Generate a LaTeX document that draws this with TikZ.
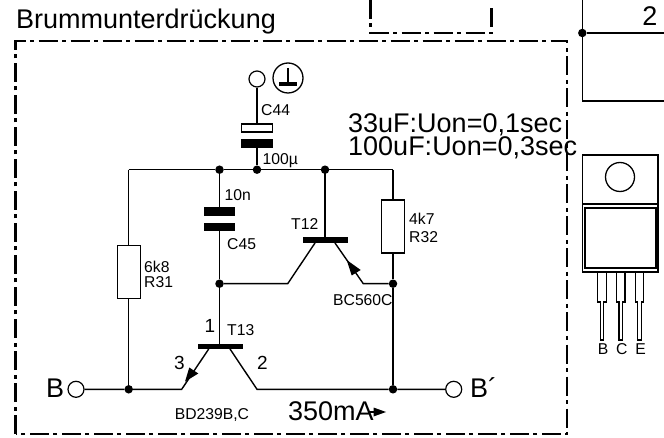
\documentclass[tikz,border=0pt]{standalone}
\usepackage{fontspec}
\setmainfont{Liberation Sans}
\begin{document}
\begin{tikzpicture}[x=1pt,y=-1pt,
  wire/.style={line width=1.4pt,line join=miter},
  dashbox/.style={line width=2.9pt,dash pattern=on 19pt off 4.5pt on 4pt off 4.5pt},
  dotn/.style={circle,fill=black,inner sep=0pt,minimum size=8.5pt},
  term/.style={circle,draw,line width=1.2pt,fill=white,inner sep=0pt,minimum size=16pt},
  res/.style={rectangle,draw,line width=1.3pt,fill=white,inner sep=0pt,minimum width=23pt,minimum height=53pt},
  plate/.style={rectangle,fill=black,inner sep=0pt,minimum width=31.5pt,minimum height=8.5pt},
  whiteplate/.style={rectangle,draw,line width=1.2pt,fill=white,inner sep=0pt,minimum width=30.5pt,minimum height=8pt},
  tbar/.style={rectangle,fill=black,inner sep=0pt,minimum width=45pt,minimum height=5.5pt},
  small/.style={anchor=base west,inner sep=0pt,font=\fontsize{15.7}{17}\selectfont},
  big/.style={anchor=base west,inner sep=0pt,font=\fontsize{27}{28}\selectfont},
  mid/.style={anchor=base west,inner sep=0pt,font=\fontsize{19}{21}\selectfont}]
\useasboundingbox (0,0) rectangle (664,438);
% dash-dot frames
\draw[dashbox] (15.5,434) -- (15.5,41) -- (567,41) -- (567,434) -- cycle;
\draw[dashbox] (370.5,0) -- (370.5,33) -- (491.7,33) -- (491.7,4);
% right-hand block
\draw[wire] (582.3,0) -- (582.3,101) -- (664,101);
\node[dotn] (d2) at (582.3,33) {};
\coordinate (re) at (664,33);
\draw[wire] (d2) -- (re);
\node[big,anchor=base] at (650,26) {2};
% TO-220
\draw[line width=1.3pt] (582.5,155) rectangle (658,272);
\draw[line width=1.3pt] (582.5,204) -- (658,204);
\draw[line width=1.3pt] (585,208) rectangle (656,268);
\node[circle,draw,line width=1.3pt,inner sep=0pt,minimum size=29pt] at (620,177) {};
\foreach \x/\t in {602/B,620.7/C,639.5/E}{
  \draw[line width=1.2pt] (\x-4.3,272) -- (\x-4.3,302) -- (\x-1.7,302) -- (\x-1.7,340) -- (\x+1.7,340) -- (\x+1.7,302) -- (\x+4.3,302) -- (\x+4.3,272);
  \node[small,anchor=base,font=\fontsize{15.7}{17}\selectfont] at (\x+1,354.5) {\t};
}
% junctions
\node[dotn] (jl) at (219.5,169.7) {};
\node[dotn] (jc) at (257,169.7) {};
\node[dotn] (jr) at (325,169.7) {};
\coordinate (tl) at (128.7,169.7);
\coordinate (trc) at (393,169.7);
\node[dotn] (jb) at (219.5,283.7) {};
\node[dotn] (jer) at (393,283.7) {};
\node[dotn] (jbl) at (128.7,389.3) {};
\node[dotn] (jbr) at (393,389.3) {};
% terminals
\node[term] (tB) at (76,389.3) {};
\node[term] (tBp) at (453.7,389.3) {};
\node[term] (tC) at (257,79) {};
% components
\node[whiteplate] (c44a) at (257,128) {};
\node[plate] (c44b) at (257,143.5) {};
\node[plate] (c45a) at (219.5,211.7) {};
\node[plate] (c45b) at (219.5,227) {};
\node[res] (r31) at (128.7,272.3) {};
\node[res] (r32) at (393,226.5) {};
\node[tbar] (t12) at (325,240) {};
\node[tbar] (t13) at (220.5,346.3) {};
% wires
\draw[wire] (tl) -- (jl) -- (jc) -- (jr) -- (trc);
\draw[wire] (tC) -- (c44a);
\draw[wire] (c44b) -- (jc);
\draw[wire] (jl) -- (c45a);
\draw[wire] (c45b) -- (jb) -- (219.5,346.3);
\draw[wire] (tl) -- (r31) -- (jbl);
\draw[wire] (trc) -- (r32) -- (jer) -- (jbr);
\draw[wire] (tB) -- (jbl) -- (181.7,389.3) -- (208.7,349);
\draw[wire] (jb) -- (287.7,283.7) -- (315,243);
\draw[wire] (325,169.7) -- (t12);
\draw[wire] (335,243) -- (363.3,283.7) -- (jer);
\draw[wire] (230,349) -- (257,389.3) -- (jbr) -- (tBp);
% emitter arrows
\fill (185,381.7) -- (189.3,367.5) -- (198.3,373.5) -- cycle;
\fill (346.7,260) -- (360.7,270) -- (351.7,275.5) -- cycle;
% ground symbol
\node[circle,draw,line width=1.3pt,inner sep=0pt,minimum size=30pt] (gnd) at (288,78) {};
\coordinate (gt) at (288,68);
\coordinate (gb) at (288,84);
\draw[line width=1.5pt] (gt) -- (gb);
\fill (279,82.5) rectangle (297,86.5);
% current arrow
\draw[line width=1.2pt] (368,412) -- (376,412);
\fill (386,412) -- (373.5,407.5) -- (373.5,416.5) -- cycle;
% texts
\node[big] at (16,28.3) {Brummunterdrückung};
\node[big] at (348,133) {33uF:Uon=0,1sec};
\node[big] at (348,155.7) {100uF:Uon=0,3sec};
\node[big] at (288,420.7) {350mA};
\node[big] at (46,397) {B};
\node[big] at (470,397) {B´};
\node[small] at (261,115.7) {C44};
\node[small] at (262.5,165) {100µ};
\node[small] at (224.5,201) {10n};
\node[small] at (227,250) {C45};
\node[small] at (291,229.7) {T12};
\node[small] at (409,225) {4k7};
\node[small] at (409,243) {R32};
\node[small] at (144,273) {6k8};
\node[small] at (144,287.7) {R31};
\node[small] at (227,336) {T13};
\node[small] at (333,305.7) {BC560C};
\node[small] at (174.7,419) {BD239B,C};
\node[mid] at (204.5,332) {1};
\node[mid] at (174,370) {3};
\node[mid] at (257,370) {2};
\end{tikzpicture}
\end{document}
